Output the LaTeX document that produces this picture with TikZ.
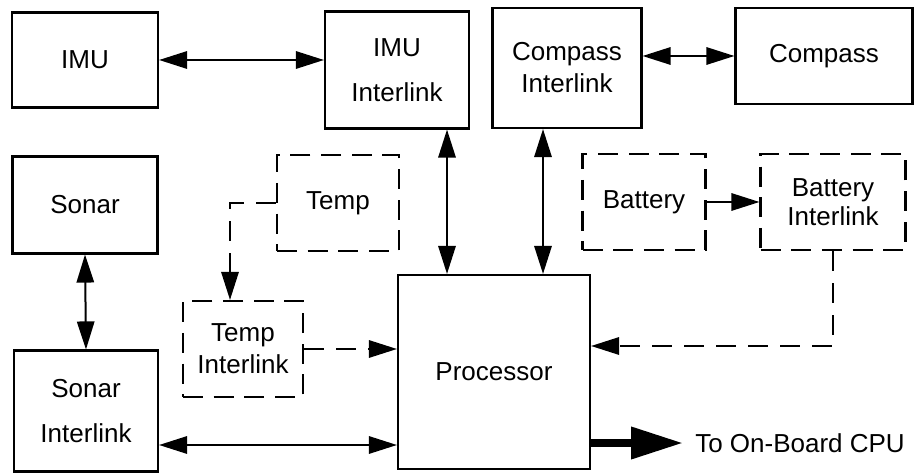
\documentclass[tikz,border=0pt]{standalone}
\usepackage{fontspec}
\setmainfont{Liberation Sans}
\usetikzlibrary{arrows.meta, calc}

\begin{document}
\begin{tikzpicture}[x=0.75pt, y=-0.75pt,
  blk/.style={rectangle, draw, line width=1.6pt, align=center, inner sep=0pt,
              font=\fontsize{19.5}{24}\selectfont},
  optblk/.style={blk, dash pattern=on 15pt off 8pt},
  link/.style={line width=1.5pt, -{Triangle[length=21pt,width=13pt]}},
  dlink/.style={link, dash pattern=on 15pt off 9pt},
  twoway/.style={line width=1.5pt, {Triangle[length=21pt,width=13pt]}-{Triangle[length=21pt,width=13pt]}},
  bigarrow/.style={line width=6pt, -{Triangle[length=39pt,width=23pt]}}
]
\useasboundingbox (0,0) rectangle (919,473);

% Top row
\node[blk, minimum width=109.5pt, minimum height=71.25pt] (imu) at (85,60) {IMU};
\node[blk, minimum width=108pt, minimum height=87.75pt] (imulink) at (397,70) {IMU\\[10pt]Interlink};
\node[blk, minimum width=111.75pt, minimum height=90pt] (complink) at (567,68) {Compass\\Interlink};
\node[blk, minimum width=132.75pt, minimum height=72pt] (compass) at (824,56) {Compass};

% Middle row (optional sensors dashed)
\node[blk, minimum width=108.75pt, minimum height=72.75pt] (sonar) at (85,205) {Sonar};
\node[optblk, minimum width=91.5pt, minimum height=72pt] (temp) at (338,203) {Temp};
\node[optblk, minimum width=92.25pt, minimum height=72pt] (battery) at (644,202) {Battery};
\node[optblk, minimum width=108.75pt, minimum height=72pt] (batlink) at (833,202) {Battery\\[-2pt]Interlink};

% Bottom row
\node[optblk, minimum width=90pt, minimum height=72pt] (templink) at (243,349) {Temp\\Interlink};
\node[blk, minimum width=144pt, minimum height=145.5pt] (proc) at (494,372) {Processor};
\node[blk, minimum width=108pt, minimum height=90.75pt] (sonarlink) at (86,411) {Sonar\\[10pt]Interlink};
\node[font=\fontsize{19.5}{24}\selectfont, anchor=west, inner xsep=9pt, inner ysep=0pt] (cpu) at (683,443) {To On-Board CPU};

% bus positions
\coordinate (imubus) at (447,0);
\coordinate (compbus) at (543,0);
\coordinate (tempbus) at (230,0);
\coordinate (sonarbus) at (0,445);
\coordinate (batbus) at (0,346);

% Connectors
\draw[twoway] (imu.east) -- (imu.east -| imulink.west);
\draw[twoway] (compass.west -| complink.east) -- (compass.west);
\draw[twoway] (imubus |- imulink.south) -- (imubus |- proc.north);
\draw[twoway] (compbus |- complink.south) -- (compbus |- proc.north);
\draw[twoway] (sonar.south) -- (sonarlink.north);
\draw[twoway] (sonarbus -| sonarlink.east) -- (sonarbus -| proc.west);
\draw[link] (battery.east) -- (battery.east -| batlink.west);
\draw[dlink] (temp.west) -| (tempbus |- templink.north);
\draw[dlink] (templink.east) -- (templink.east -| proc.west);
\draw[dlink] (batlink.south) |- (batbus -| proc.east);
\draw[bigarrow] (cpu.west -| proc.east) -- (cpu.west);
\end{tikzpicture}
\end{document}
